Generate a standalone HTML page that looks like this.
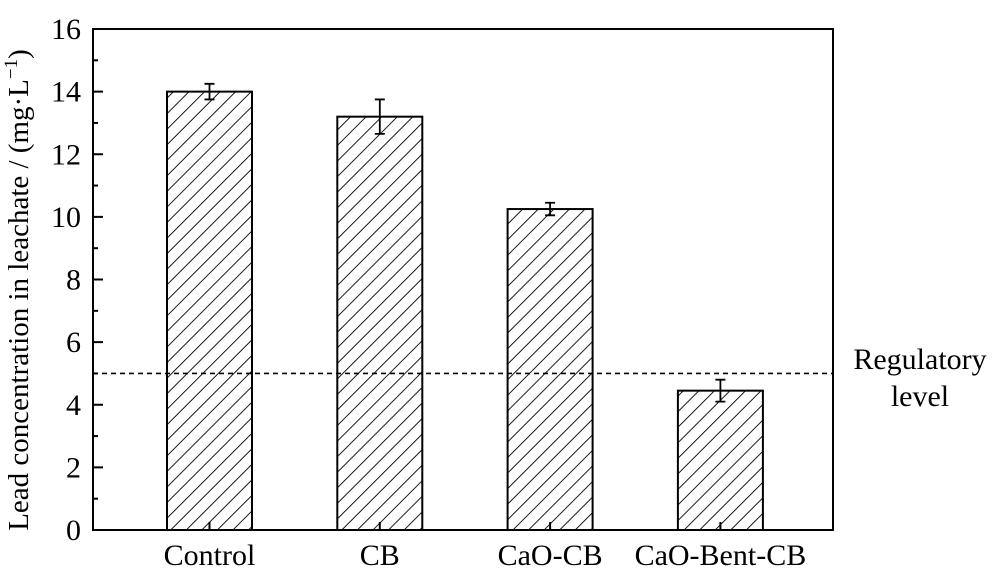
<!DOCTYPE html>
<html><head><meta charset="utf-8"><style>body{margin:0;background:#fff}svg{display:block}text{font-family:"Liberation Serif",serif;fill:#000}</style></head>
<body>
<svg width="1000" height="573" viewBox="0 0 1000 573" xmlns="http://www.w3.org/2000/svg">
<defs><pattern id="hatch" patternUnits="userSpaceOnUse" width="11" height="11" patternTransform="rotate(45)"><line x1="0" y1="0" x2="0" y2="11" stroke="#000" stroke-width="1.8"/></pattern></defs>
<g id="g"></g>
</svg>
<script>
const categories=["Control","CB","CaO-CB","CaO-Bent-CB"];
const values=[14.0,13.2,10.25,4.45];
const errors=[0.25,0.55,0.2,0.35];
const yTicks=[0,2,4,6,8,10,12,14,16];
const regulatory=5;
const L=93,R=833,T=29,B=530,ymax=16;
const y=v=>B-(v/ymax)*(B-T);
const cx=i=>209.5+i*170.3;
const bw=85;
const NS="http://www.w3.org/2000/svg";
const g=document.getElementById('g');
function mk(t,a,txt){const e=document.createElementNS(NS,t);for(const k in a)e.setAttribute(k,a[k]);if(txt!==undefined)e.textContent=txt;g.appendChild(e);return e;}
values.forEach((v,i)=>{
 const r=mk('rect',{x:cx(i)-bw/2,y:y(v),width:bw,height:B-y(v),fill:'url(#hatch)',stroke:'#000','stroke-width':2});
 
 
 const e=mk('path',{d:`M${cx(i)-5},${y(v+errors[i])}H${cx(i)+5}M${cx(i)},${y(v+errors[i])}V${y(v-errors[i])}M${cx(i)-5},${y(v-errors[i])}H${cx(i)+5}`,stroke:'#000','stroke-width':1.8,fill:'none'});
 
 
 const t=mk('text',{x:cx(i),y:565,'font-size':30,'text-anchor':'middle'},categories[i]);
 
 
});
const fr=mk('rect',{x:L,y:T,width:R-L,height:B-T,fill:'none',stroke:'#000','stroke-width':2});


yTicks.forEach((v,i)=>{
 const tk=mk('line',{x1:L,x2:L+10,y1:y(v),y2:y(v),stroke:'#000','stroke-width':2});
 
 
 if(i<yTicks.length-1){const m=mk('line',{x1:L,x2:L+5,y1:y(v+1),y2:y(v+1),stroke:'#000','stroke-width':2});
 
 }
 const t=mk('text',{x:L-12,y:y(v)+10,'font-size':30,'text-anchor':'end'},String(v));
 
 
});
[0,1,2,3].forEach(i=>{const t=mk('line',{x1:cx(i),x2:cx(i),y1:B,y2:B-8,stroke:'#000','stroke-width':2});
 
 });
const d=mk('line',{x1:L,x2:R,y1:y(regulatory),y2:y(regulatory),stroke:'#000','stroke-width':1.6,'stroke-dasharray':'5,4'});


const r1=mk('text',{x:920,y:369,'font-size':30,'text-anchor':'middle'},'Regulatory');


const r2=mk('text',{x:920,y:406,'font-size':30,'text-anchor':'middle'},'level');


const yt=mk('text',{x:0,y:0,'font-size':29,'text-anchor':'middle',transform:'translate(28,290) rotate(-90)'});


yt.innerHTML='Lead concentration in leachate / (mg·L<tspan dy="-11" font-size="19">−1</tspan><tspan dy="11">)</tspan>';
</script>
</body></html>
